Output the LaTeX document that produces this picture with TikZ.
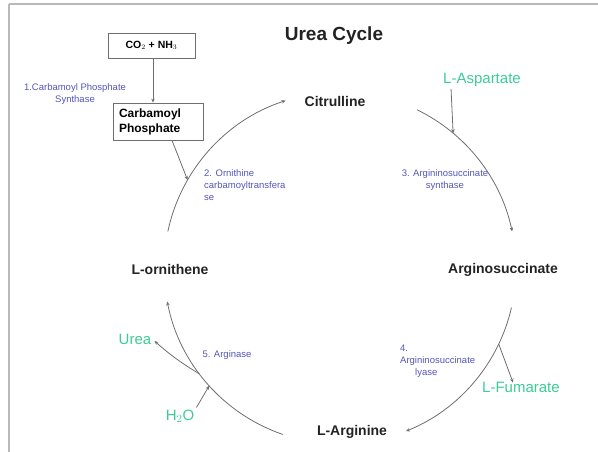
\documentclass[tikz,border=0pt]{standalone}
\usepackage{fontspec}
\setmainfont{Liberation Sans}
\usetikzlibrary{arrows.meta,calc}
\definecolor{metgreen}{RGB}{60,205,150}
\definecolor{enzblue}{RGB}{85,85,185}
\definecolor{linegray}{RGB}{110,110,110}
\definecolor{framegray}{RGB}{185,185,185}
\definecolor{txtblack}{RGB}{35,35,35}
\tikzset{
  metab/.style={font=\bfseries\fontsize{14}{16}\selectfont, text=txtblack, inner sep=0pt},
  sidemet/.style={font=\fontsize{15}{17}\selectfont, text=metgreen, inner sep=0pt},
  enzyme/.style={font=\fontsize{9.5}{12}\selectfont, text=enzblue, inner sep=0pt},
  cbox/.style={draw=linegray, line width=0.8pt, inner sep=0pt},
  flow/.style={draw=linegray, line width=0.8pt, -{Stealth[length=4pt,width=3.5pt]}},
}
\begin{document}
\begin{tikzpicture}[x=1pt,y=1pt]
\useasboundingbox (0,0) rectangle (598,-452);
% frame
\draw[framegray, line width=2pt] (9,-4.5) -- (598,-4.5);
\draw[framegray, line width=2pt] (9,-4.5) -- (9,-452);

\node[font=\bfseries\fontsize{19}{21}\selectfont, text=txtblack] (title) at (334,-36) {Urea Cycle};

% boxes
\node[cbox, minimum width=87pt, minimum height=25pt, font=\bfseries\fontsize{10.5}{12}\selectfont] (co2) at (151.5,-45.5) {CO$_2$ + NH$_3$};
\node[cbox, minimum width=90pt, minimum height=37pt, align=left, text width=78pt, font=\bfseries\fontsize{12}{15}\selectfont] (cp) at (158,-121.5) {Carbamoyl\\Phosphate};
\coordinate (co2s) at ($(co2.south)+(1.5,0)$);
\draw[flow] (co2s) -- (co2s |- cp.north);

\node[enzyme, align=center] (e1) at (75,-94) {1.Carbamoyl Phosphate\\Synthase};

% metabolites
\node[metab] (cit) at (335,-101) {Citrulline};
\node[metab] (asu) at (503,-270) {Arginosuccinate};
\node[metab] (arg) at (352,-432) {L-Arginine};
\node[metab] (orn) at (170,-269) {L-ornithene};

\node[sidemet] (asp) at (482,-80) {L-Aspartate};
\node[sidemet] (fum) at (521,-387) {L-Fumarate};
\node[sidemet] (urea) at (135,-339) {Urea};
\node[sidemet] (h2o) at (180,-416) {H$_2$O};

\node[enzyme, align=left, anchor=west] (e2) at (204,-185) {2. Ornithine\\carbamoyltransfera\\se};
\node[enzyme, align=center] (e3) at (445,-180) {3. Argininosuccinate\\synthase};
\node[enzyme, align=left, anchor=west] (e4) at (400,-361) {4.\\Argininosuccinate\\\hspace*{15pt}lyase};
\node[enzyme] (e5) at (227,-355) {5. Arginase};

% cycle arcs
\coordinate (c) at (340,-268);
\draw[flow] ($(c)+(168:176)$) arc[start angle=168, end angle=108, radius=176];
\draw[flow] ($(c)+(64:176)$) arc[start angle=64, end angle=12, radius=176];
\draw[flow] ($(c)+(-13:176)$) arc[start angle=-13, end angle=-68, radius=176];
\draw[flow] ($(c)+(-109:176)$) arc[start angle=-109, end angle=-169, radius=176];

% side arrows
\coordinate (cpin) at ($(c)+(150:176)$);
\coordinate (aspin) at ($(c)+(50:176)$);
\coordinate (fumout) at ($(c)+(-25.6:176)$);
\coordinate (ureaout) at ($(c)+(-143:176)$);
\coordinate (h2oin) at ($(c)+(-138:176)$);
\draw[flow] ($(cp.south)+(14,0)$) -- (cpin);
\draw[flow] ($(asp.south west)+(8,-2)$) -- (aspin);
\draw[flow] (fumout) -- ($(fum.north west)+(31,-1)$);
\draw[flow] (ureaout) to[bend left=5] ($(urea.east)+(3,-2)$);
\draw[flow] ($(h2o.north east)+(2,2)$) -- (h2oin);
\end{tikzpicture}
\end{document}
